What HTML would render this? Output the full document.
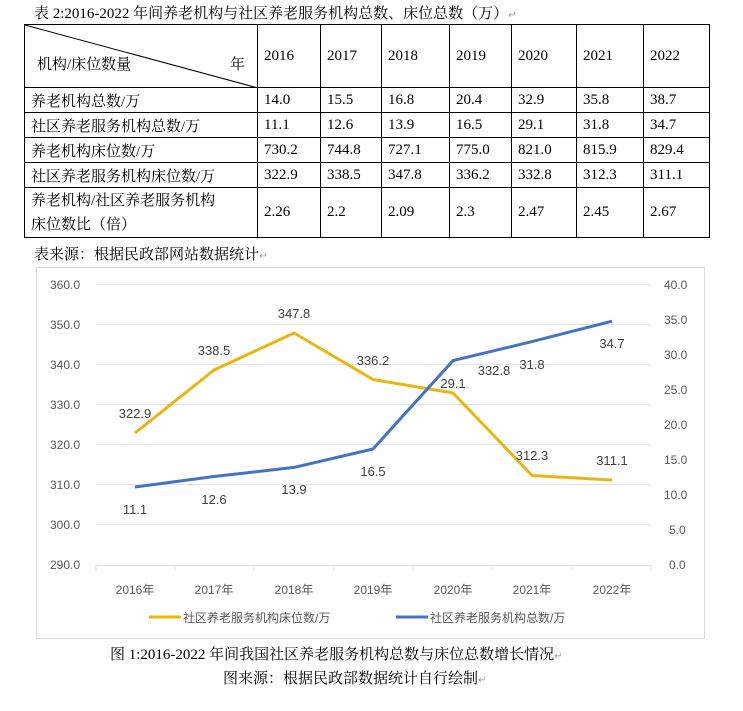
<!DOCTYPE html>
<html><head><meta charset="utf-8"><style>
body{margin:0;width:743px;height:711px;background:#fff;font-family:"Liberation Serif","Noto Serif CJK SC",serif;color:#000;position:relative;overflow:hidden}
.t{position:absolute;white-space:nowrap;font-size:15px}
table{position:absolute;left:24px;top:24px;border-collapse:collapse;font-size:15px}
td{border:1px solid #000;padding:0 0 0 6px;height:24px;white-space:nowrap}
.m{color:#999;font-size:10px}
</style></head><body>
<div class="t" style="left:34px;top:2px">表 2:2016-2022 年间养老机构与社区养老服务机构总数、床位总数（万）<span class="m">↵</span></div>
<table>
<colgroup><col style="width:233px"><col style="width:63px"><col style="width:61px"><col style="width:68px"><col style="width:62px"><col style="width:65px"><col style="width:67px"><col style="width:66px"></colgroup>
<tr style="height:63px"><td style="position:relative;padding:0">
<svg width="233" height="63" style="position:absolute;left:0;top:0"><line x1="0" y1="0" x2="233" y2="63" stroke="#000" stroke-width="1"/></svg>
<span style="position:absolute;left:12px;top:28px">机构/床位数量</span><span style="position:absolute;left:205px;top:28px">年</span></td>
<td>2016</td><td>2017</td><td>2018</td><td>2019</td><td>2020</td><td>2021</td><td>2022</td></tr>
<tr><td>养老机构总数/万</td><td>14.0</td><td>15.5</td><td>16.8</td><td>20.4</td><td>32.9</td><td>35.8</td><td>38.7</td></tr>
<tr><td>社区养老服务机构总数/万</td><td>11.1</td><td>12.6</td><td>13.9</td><td>16.5</td><td>29.1</td><td>31.8</td><td>34.7</td></tr>
<tr><td>养老机构床位数/万</td><td>730.2</td><td>744.8</td><td>727.1</td><td>775.0</td><td>821.0</td><td>815.9</td><td>829.4</td></tr>
<tr><td>社区养老服务机构床位数/万</td><td>322.9</td><td>338.5</td><td>347.8</td><td>336.2</td><td>332.8</td><td>312.3</td><td>311.1</td></tr>
<tr style="height:50px"><td style="line-height:24px">养老机构/社区养老服务机构<br>床位数比（倍）</td><td>2.26</td><td>2.2</td><td>2.09</td><td>2.3</td><td>2.47</td><td>2.45</td><td>2.67</td></tr>
</table>
<div class="t" style="left:34px;top:243px">表来源：根据民政部网站数据统计<span class="m">↵</span></div>
<svg width="743" height="711" style="position:absolute;left:0;top:0" font-family="Liberation Sans,Noto Sans CJK SC,sans-serif">
<rect x="36.5" y="267.5" width="668" height="371" fill="none" stroke="#d9d9d9"/>
<g stroke="#e3e3e3" stroke-width="1">
<line x1="96" x2="651" y1="284.5" y2="284.5"/><line x1="96" x2="651" y1="324.5" y2="324.5"/><line x1="96" x2="651" y1="364.5" y2="364.5"/><line x1="96" x2="651" y1="404.5" y2="404.5"/><line x1="96" x2="651" y1="444.5" y2="444.5"/><line x1="96" x2="651" y1="484.5" y2="484.5"/><line x1="96" x2="651" y1="524.5" y2="524.5"/><line x1="96" x2="651" y1="565.5" y2="565.5"/>
<line x1="96" x2="96" y1="565" y2="571"/><line x1="175" x2="175" y1="565" y2="571"/><line x1="254" x2="254" y1="565" y2="571"/><line x1="334" x2="334" y1="565" y2="571"/><line x1="413" x2="413" y1="565" y2="571"/><line x1="492" x2="492" y1="565" y2="571"/><line x1="572" x2="572" y1="565" y2="571"/><line x1="651" x2="651" y1="565" y2="571"/>
</g>
<g font-size="12" fill="#595959" text-anchor="end">
<text x="80" y="289">360.0</text><text x="80" y="329">350.0</text><text x="80" y="369">340.0</text><text x="80" y="409">330.0</text><text x="80" y="449">320.0</text><text x="80" y="489">310.0</text><text x="80" y="529">300.0</text><text x="80" y="569">290.0</text>
</g>
<g font-size="12" fill="#595959" text-anchor="start">
<text x="664" y="289">40.0</text><text x="664" y="324">35.0</text><text x="664" y="359">30.0</text><text x="664" y="394">25.0</text><text x="664" y="429">20.0</text><text x="664" y="464">15.0</text><text x="664" y="499">10.0</text><text x="669" y="534">5.0</text><text x="669" y="569">0.0</text>
</g>
<g font-size="12" fill="#595959" text-anchor="middle">
<text x="135" y="594">2016年</text><text x="214" y="594">2017年</text><text x="294" y="594">2018年</text><text x="373" y="594">2019年</text><text x="453" y="594">2020年</text><text x="532" y="594">2021年</text><text x="612" y="594">2022年</text>
</g>
<polyline fill="none" stroke="#EBB511" stroke-width="3" stroke-linejoin="round" points="135,433 214,370 294,333 373,379.5 453,393 532,475.5 612,480"/>
<polyline fill="none" stroke="#4472C4" stroke-width="3" stroke-linejoin="round" points="135,487 214,476.5 294,467.4 373,449 453,360.6 532,341.6 612,321.2"/>
<g font-size="13" fill="#404040" text-anchor="middle">
<text x="135" y="418">322.9</text><text x="214" y="355">338.5</text><text x="294" y="318">347.8</text><text x="373" y="365">336.2</text><text x="494" y="375">332.8</text><text x="532" y="369">31.8</text><text x="453" y="388">29.1</text><text x="612" y="348">34.7</text><text x="532" y="460">312.3</text><text x="612" y="465">311.1</text>
<text x="135" y="514">11.1</text><text x="214" y="504">12.6</text><text x="294" y="494">13.9</text><text x="373" y="476">16.5</text>
</g>
<line x1="149" x2="181" y1="617" y2="617" stroke="#EBB511" stroke-width="3"/>
<text x="183" y="622" font-size="12" fill="#595959">社区养老服务机构床位数/万</text>
<line x1="396" x2="428" y1="617" y2="617" stroke="#4472C4" stroke-width="3"/>
<text x="430" y="622" font-size="12" fill="#595959">社区养老服务机构总数/万</text>
</svg>
<div class="t" style="left:110px;top:643px">图 1:2016-2022 年间我国社区养老服务机构总数与床位总数增长情况<span class="m">↵</span></div>
<div class="t" style="left:223px;top:667px">图来源：根据民政部数据统计自行绘制<span class="m">↵</span></div>
</body></html>
